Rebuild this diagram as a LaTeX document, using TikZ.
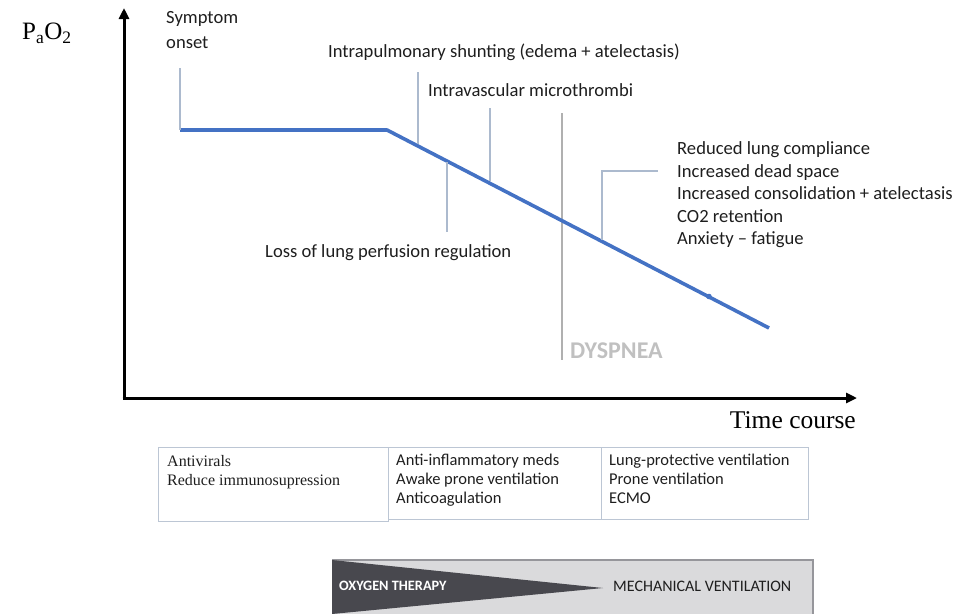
\documentclass[tikz,border=0pt]{standalone}
\usepackage{fontspec}
\setmainfont{Liberation Serif}
\newfontfamily\calib{Carlito}
\usetikzlibrary{arrows.meta}
\definecolor{blueline}{RGB}{68,114,196}
\definecolor{leadc}{RGB}{172,186,206}
\definecolor{dysc}{RGB}{176,176,176}
\definecolor{dystext}{RGB}{192,192,192}
\definecolor{tabc}{RGB}{188,198,212}
\definecolor{barc}{RGB}{218,218,220}
\definecolor{barline}{RGB}{150,150,155}
\definecolor{tric}{RGB}{72,72,78}
\definecolor{txt}{RGB}{30,30,30}
\begin{document}
\begin{tikzpicture}[x=1pt,y=-1pt,
  ann/.style={anchor=west, inner sep=0pt, text=txt, font=\calib\fontsize{18.6}{22.5}\selectfont, align=left},
  tabsans/.style={anchor=north west, inner sep=0pt, text=txt, font=\calib\fontsize{16.5}{19}\selectfont, align=left},
  tabserif/.style={anchor=north west, inner sep=0pt, text=txt, font=\fontsize{16}{19}\selectfont, align=left},
  axisline/.style={line width=3pt, -{Triangle[length=11pt,width=10pt]}},
  leader/.style={draw=leadc, line width=1.2pt},
  curve/.style={draw=blueline, line width=3.6pt, line join=round},
  cell/.style={draw=tabc, line width=1pt}]
\useasboundingbox (0,0) rectangle (971,613);

% axes
\coordinate (origin) at (124,398);
\coordinate (ytop) at (124,8);
\coordinate (xend) at (857,398);
\draw[axisline] (124,399.5) -- (ytop);
\draw[axisline] (122.5,398) -- (xend);
\node[anchor=west, inner sep=0pt, font=\fontsize{25}{28}\selectfont] (pao2) at (22,33) {P\textsubscript{a}O\textsubscript{2}};
\node[anchor=east, inner sep=0pt, font=\fontsize{25.5}{28}\selectfont] (time) at (856,420) {Time course};

% dyspnea
\coordinate (dtop) at (562,113);
\coordinate (dbot) at (562,360);
\draw[dysc, line width=2.8pt] (dtop) -- (dbot);
\node[anchor=west, inner sep=0pt, text=dystext, font=\calib\bfseries\fontsize{24}{26}\selectfont] (dysp) at (570,351) {DYSPNEA};

% curve
\coordinate (p0) at (180,130);
\coordinate (p1) at (387,130);
\coordinate (p2) at (769,328);
\draw[curve] (p0) -- (p1) -- (p2);
\fill[blueline] (709,296.5) circle (2.8pt);

% labels and leaders
\node[ann, font=\calib\fontsize{18.6}{25}\selectfont] (onset) at (166,30.5) {Symptom\\onset};
\coordinate (l1a) at (180,68);
\draw[leader] (l1a) -- (p0);

\node[ann] (shunt) at (328,52) {Intrapulmonary shunting (edema + atelectasis)};
\coordinate (l2a) at (418,72);
\coordinate (l2b) at (418,144);
\draw[leader] (l2a) -- (l2b);

\node[ann] (micro) at (428,90) {Intravascular microthrombi};
\coordinate (l3a) at (490,108);
\coordinate (l3b) at (490,181);
\draw[leader] (l3a) -- (l3b);

\node[ann] (loss) at (265,253) {Loss of lung perfusion regulation};
\coordinate (l4a) at (447,162);
\coordinate (l4b) at (447,232);
\draw[leader] (l4a) -- (l4b);

\node[ann] (list) at (677,195) {Reduced lung compliance\\Increased dead space\\Increased consolidation + atelectasis\\CO2 retention\\Anxiety – fatigue};
\coordinate (l5a) at (602,240);
\coordinate (l5b) at (602,171);
\coordinate (l5c) at (658,171);
\draw[leader] (l5a) -- (l5b) -- (l5c);

% table
\draw[cell] (158,447) rectangle (388,521);
\draw[cell] (388,447) rectangle (601,519);
\draw[cell] (601,447) rectangle (808,519);
\node[tabserif] (t1) at (167,455) {Antivirals\\Reduce immunosupression};
\node[tabsans] (t2) at (396,454) {Anti-inflammatory meds\\Awake prone ventilation\\Anticoagulation};
\node[tabsans] (t3) at (609,454) {Lung-protective ventilation\\Prone ventilation\\ECMO};

% bottom bar
\fill[barc] (332,560) rectangle (813,614);
\draw[barline, line width=1.2pt] (332,560) -- (813,560) -- (813,614);
\fill[tric] (332,560) -- (603,588) -- (332,614) -- cycle;
\node[anchor=west, inner sep=0pt, text=white, font=\calib\bfseries\fontsize{14.3}{16}\selectfont] (oxy) at (339,586) {OXYGEN THERAPY};
\node[anchor=west, inner sep=0pt, text=txt, font=\calib\fontsize{16}{18}\selectfont] (mech) at (613,586) {MECHANICAL VENTILATION};
\end{tikzpicture}
\end{document}
